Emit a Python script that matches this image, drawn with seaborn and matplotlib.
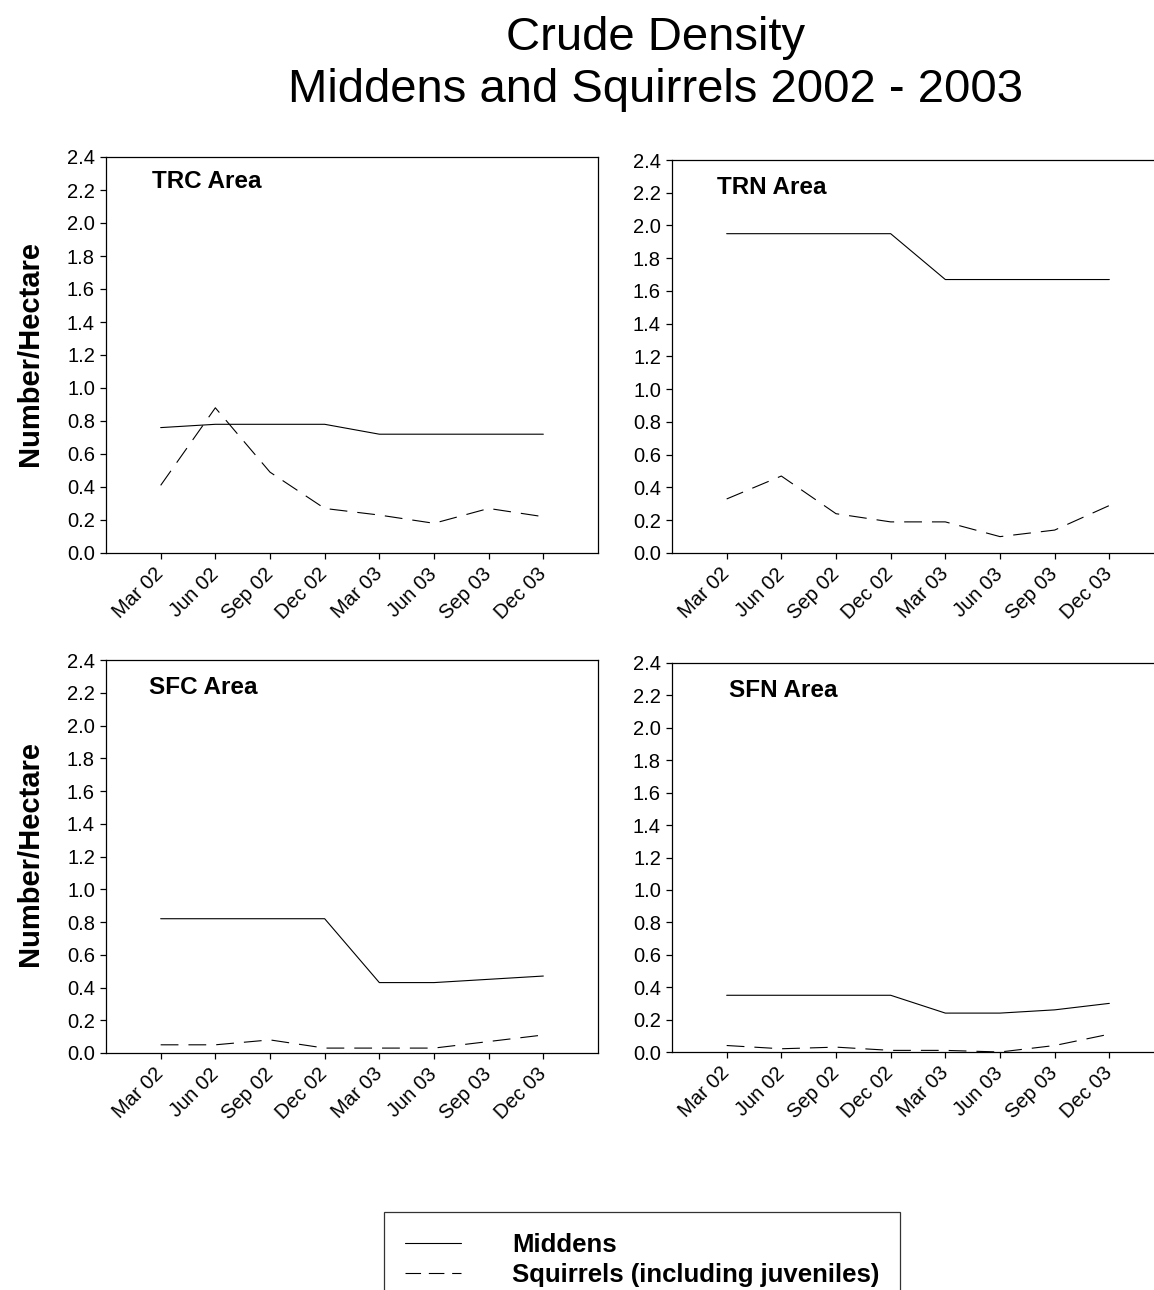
import pandas as pd
import matplotlib
matplotlib.use("Agg")
import matplotlib.pyplot as plt
import seaborn as sns
from matplotlib.lines import Line2D

# ==========================================
# Data
# ==========================================

quarters = ["Mar 02", "Jun 02", "Sep 02", "Dec 02", "Mar 03", "Jun 03", "Sep 03", "Dec 03"]

trc_middens = [0.76, 0.78, 0.78, 0.78, 0.72, 0.72, 0.72, 0.72]
trc_squirrels = [0.41, 0.88, 0.49, 0.27, 0.23, 0.18, 0.27, 0.22]

trn_middens = [1.95, 1.95, 1.95, 1.95, 1.67, 1.67, 1.67, 1.67]
trn_squirrels = [0.33, 0.47, 0.24, 0.19, 0.19, 0.10, 0.14, 0.29]

sfc_middens = [0.82, 0.82, 0.82, 0.82, 0.43, 0.43, 0.45, 0.47]
sfc_squirrels = [0.05, 0.05, 0.08, 0.03, 0.03, 0.03, 0.07, 0.11]

sfn_middens = [0.35, 0.35, 0.35, 0.35, 0.24, 0.24, 0.26, 0.30]
sfn_squirrels = [0.04, 0.02, 0.03, 0.01, 0.01, 0.00, 0.04, 0.11]

areas = ["TRC Area", "TRN Area", "SFC Area", "SFN Area"]
middens = [trc_middens, trn_middens, sfc_middens, sfn_middens]
squirrels = [trc_squirrels, trn_squirrels, sfc_squirrels, sfn_squirrels]

# ==========================================
# Style
# ==========================================

sns.set_style("ticks")
plt.rcParams["font.family"] = ["Liberation Sans", "DejaVu Sans"]
plt.rcParams["text.color"] = "black"
plt.rcParams["xtick.color"] = "black"
plt.rcParams["ytick.color"] = "black"
plt.rcParams["axes.labelcolor"] = "black"

DASH = (0, (16, 9))

fig = plt.figure(figsize=(11.54, 12.9), dpi=100)
W, H = 1154, 1290

# panel boxes in pixels: left, top, bottom (width shared)
panels = [(106, 157, 553), (672, 160, 553), (106, 660, 1053), (672, 663, 1052)]
label_pos = [(0.094, 0.937), (0.092, 0.931), (0.087, 0.931), (0.116, 0.930)]
width = 492

for i, (left, top, bottom) in enumerate(panels):
    ax = fig.add_axes([left / W, 1 - bottom / H, width / W, (bottom - top) / H])
    df = pd.DataFrame({"idx": range(len(quarters)),
                       "Middens": middens[i],
                       "Squirrels": squirrels[i]})
    sns.lineplot(data=df, x="idx", y="Middens", ax=ax, color="black", lw=0.8)
    sns.lineplot(data=df, x="idx", y="Squirrels", ax=ax, color="black", lw=0.8,
                 linestyle=DASH)
    ax.set_xlim(-1, 8)
    ax.set_ylim(0, 2.4)
    ax.set_yticks([k / 10 for k in range(0, 25, 2)])
    ax.set_yticklabels([f"{k / 10:.1f}" for k in range(0, 25, 2)], fontsize=14.5)
    ax.set_xticks(range(len(quarters)))
    ax.set_xticklabels(quarters, fontsize=14.5, rotation=45, ha="right",
                       va="center", rotation_mode="anchor")
    ax.tick_params(axis="x", pad=9, length=4, width=0.9)
    ax.tick_params(axis="y", pad=4, length=4, width=0.9)
    ax.set_xlabel("")
    ax.set_ylabel("")
    for sp in ax.spines.values():
        sp.set_visible(True)
        sp.set_color("black")
        sp.set_linewidth(0.9)
    ax.text(label_pos[i][0], label_pos[i][1], areas[i], transform=ax.transAxes,
            fontsize=17.5, fontweight="bold", va="center", ha="left")

# y labels for left column
fig.text(30 / W, 1 - 354 / H, "Number/Hectare", rotation=90, fontsize=21,
         fontweight="bold", ha="center", va="center")
fig.text(30 / W, 1 - 854 / H, "Number/Hectare", rotation=90, fontsize=21,
         fontweight="bold", ha="center", va="center")

# title
fig.text(656 / W, 1 - 38 / H, "Crude Density", fontsize=34, ha="center", va="center")
fig.text(656 / W, 1 - 90 / H, "Middens and Squirrels 2002 - 2003", fontsize=34,
         ha="center", va="center")

# legend
handles = [Line2D([], [], color="black", lw=0.8),
           Line2D([], [], color="black", lw=0.8, linestyle=(0, (14, 7)))]
leg = fig.legend(handles, ["Middens", "Squirrels (including juveniles)"],
                 loc="upper left", bbox_to_anchor=(384 / W, 1 - 1212 / H),
                 prop={"weight": "bold", "size": 18.5}, frameon=True,
                 fancybox=False, edgecolor="black", borderpad=0.8,
                 handlelength=2.2, handletextpad=2.0, labelspacing=0.25,
                 borderaxespad=0)
leg.get_frame().set_linewidth(0.9)

plt.savefig("out.png", dpi=100)
plt.close()
